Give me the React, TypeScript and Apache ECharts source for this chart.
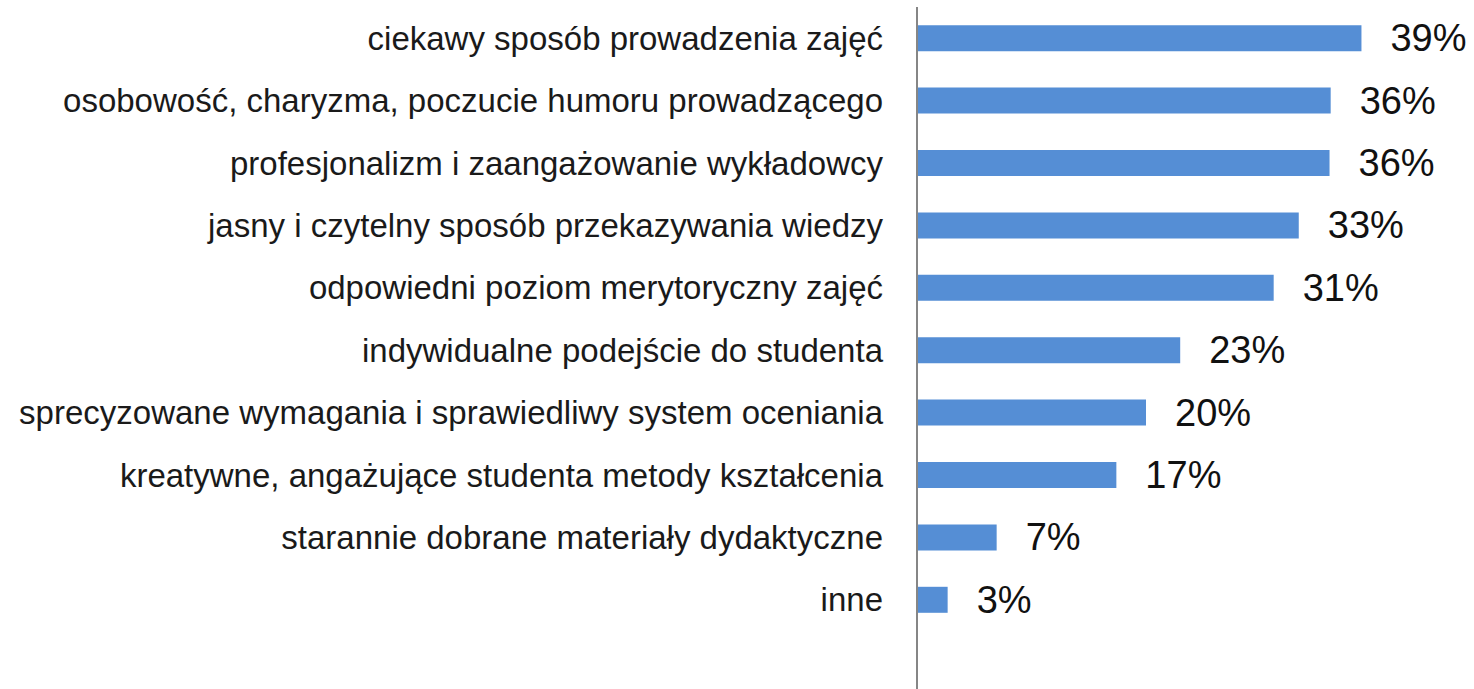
import React, { useEffect, useRef } from "react";
import * as echarts from "echarts";

const categories = [
  "ciekawy sposób prowadzenia zajęć",
  "osobowość, charyzma, poczucie humoru prowadzącego",
  "profesjonalizm i zaangażowanie wykładowcy",
  "jasny i czytelny sposób przekazywania wiedzy",
  "odpowiedni poziom merytoryczny zajęć",
  "indywidualne podejście do studenta",
  "sprecyzowane wymagania i sprawiedliwy system oceniania",
  "kreatywne, angażujące studenta metody kształcenia",
  "starannie dobrane materiały dydaktyczne",
  "inne",
];
const values = [38.9, 36.2, 36.1, 33.4, 31.2, 23.0, 20.0, 17.4, 6.9, 2.6];

export default function App() {
  const ref = useRef<HTMLDivElement>(null);
  useEffect(() => {
    if (!ref.current) return;
    const chart = echarts.init(ref.current, null, { renderer: "svg" });
    chart.setOption({
      animation: false,
      backgroundColor: "#ffffff",
      grid: {
        left: 918,
        right: 100,
        top: 7,
        bottom: 58,
        containLabel: false,
        outerBoundsMode: "none",
      },
      xAxis: {
        type: "value",
        min: 0,
        max: 40,
        show: false,
      },
      yAxis: {
        type: "category",
        inverse: true,
        data: categories,
        axisLine: { show: false },
        axisTick: { show: false },
        axisLabel: {
          margin: 35,
          color: "#1a1a1a",
          fontFamily: "'Liberation Sans', sans-serif",
          fontSize: 33,
        },
      },
      series: [
        {
          type: "bar",
          data: values,
          barWidth: 26,
          itemStyle: { color: "#558ed5" },
          label: {
            show: true,
            position: "right",
            distance: 29,
            color: "#111111",
            fontFamily: "'Liberation Sans', sans-serif",
            fontSize: 38,
            formatter: (p: any) => Math.round(p.value) + "%",
          },
        },
      ],
      graphic: [
        {
          type: "line",
          shape: { x1: 917, y1: 7, x2: 917, y2: 689 },
          style: { stroke: "#868686", lineWidth: 2 },
          z: 10,
        },
      ],
    });
    return () => chart.dispose();
  }, []);
  return (
    <div
      ref={ref}
      style={{ position: "fixed", left: 0, top: 0, width: 1474, height: 689 }}
    />
  );
}
